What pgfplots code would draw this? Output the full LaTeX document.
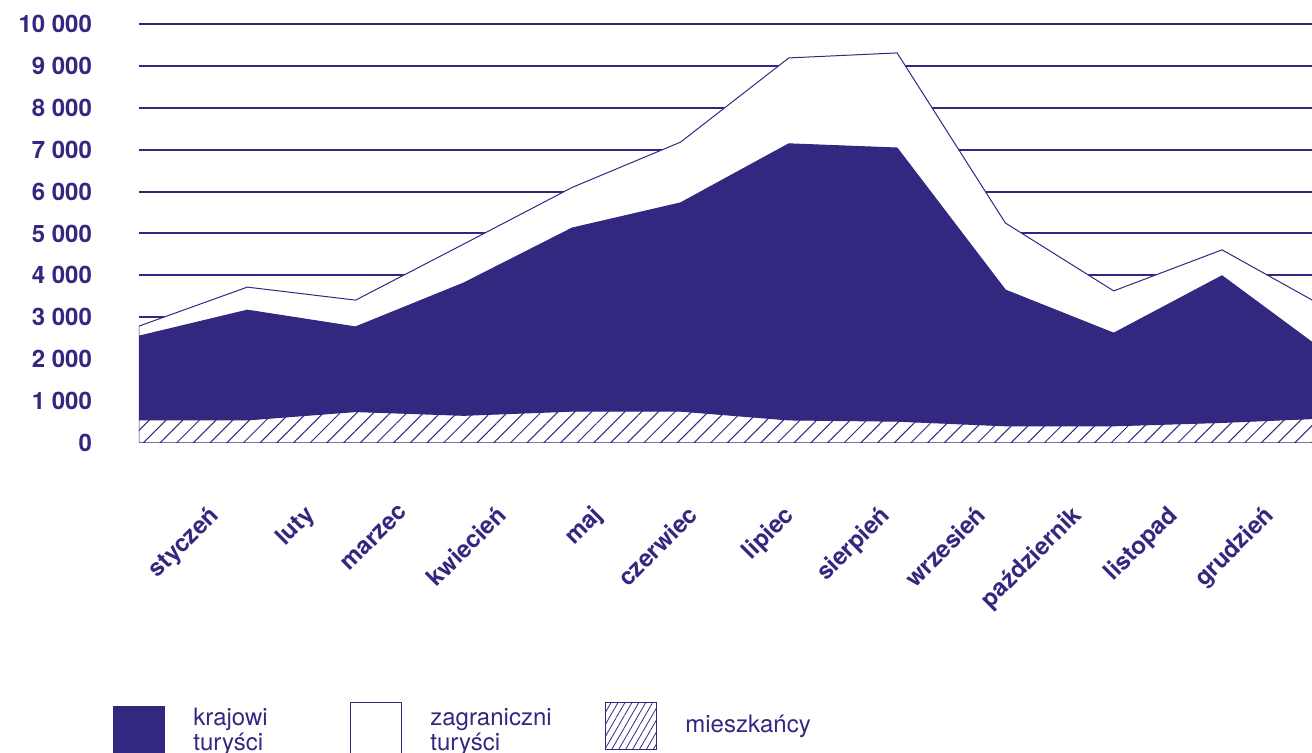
\documentclass[border=0pt]{standalone}
\usepackage{fontspec}
\setmainfont{TeX Gyre Heros}
\usepackage{pgfplots}
\pgfplotsset{compat=1.18}
\usetikzlibrary{patterns.meta}
\definecolor{dblue}{RGB}{50,40,128}

\begin{document}
\begin{tikzpicture}
\begin{axis}[
    at={(0pt,0pt)}, anchor=south west,
    scale only axis, width=586.5pt, height=209.5pt,
    xmin=0, xmax=10.831, ymin=0, ymax=10000,
    axis line style={draw=none},
    major tick length=0pt,
    scaled y ticks=false,
    stack plots=y,
    ymajorgrids,
    grid style={dblue, line width=1pt},
    ytick={1000,2000,3000,4000,5000,6000,7000,8000,9000,10000},
    yticklabels={1 000,2 000,3 000,4 000,5 000,6 000,7 000,8 000,9 000,10 000},
    extra y ticks={0},
    extra y tick labels={0},
    extra y tick style={grid=none},
    yticklabel style={font=\fontsize{12}{14}\selectfont\bfseries, text=dblue, xshift=-20pt},
    xtick={0.629,1.515,2.400,3.286,4.171,5.057,5.942,6.828,7.713,8.599,9.484,10.370},
    xticklabels={styczeń,luty,marzec,kwiecień,maj,czerwiec,lipiec,sierpień,wrzesień,październik,listopad,grudzień},
    xticklabel style={yshift=-25.5pt, rotate=45, anchor=north east, font=\fontsize{12}{14}\selectfont\bfseries, text=dblue},
]
% mieszkancy
\addplot[draw=dblue, line width=0.5pt, pattern={Lines[angle=45,distance=5.9pt,line width=0.5pt]}, pattern color=dblue]
    coordinates {(0,550) (1,550) (2,750) (3,660) (4,760) (5,760) (6,550) (7,520) (8,410) (9,410) (10,490) (11,600)} \closedcycle;
% krajowi turysci
\addplot[draw=none, fill=dblue]
    coordinates {(0,2000) (1,2620) (2,2020) (3,3160) (4,4370) (5,4970) (6,6590) (7,6520) (8,3240) (9,2210) (10,3500) (11,1480)} \closedcycle;
% zagraniczni turysci
\addplot[draw=dblue, line width=0.5pt, fill=white]
    coordinates {(0,240) (1,550) (2,640) (3,930) (4,970) (5,1450) (6,2050) (7,2270) (8,1600) (9,1010) (10,620) (11,1090)} \closedcycle;
\end{axis}

% legend
\fill[dblue] (-13pt,-131.5pt) rectangle (13pt,-160pt);
\draw[dblue, line width=0.5pt] (105.5pt,-160pt) -- (105.5pt,-130pt) -- (131pt,-130pt) -- (131pt,-160pt);
\draw[dblue, line width=0.5pt, pattern={Lines[angle=60,distance=3pt,line width=0.4pt]}, pattern color=dblue]
    (233pt,-130pt) rectangle (258.5pt,-153.5pt);
\begin{scope}[every node/.style={inner sep=0pt, anchor=base west, text=dblue, font=\fontsize{12}{14}\selectfont}]
\node at (27pt,-141.5pt) {krajowi};
\node at (27pt,-154pt) {turyści};
\node at (145.5pt,-141.5pt) {zagraniczni};
\node at (145.5pt,-154pt) {turyści};
\node at (273pt,-145pt) {mieszkańcy};
\end{scope}

\pgfresetboundingbox
\path[use as bounding box] (-69.5pt,-155pt) rectangle (586.5pt,221.5pt);
\end{tikzpicture}
\end{document}
